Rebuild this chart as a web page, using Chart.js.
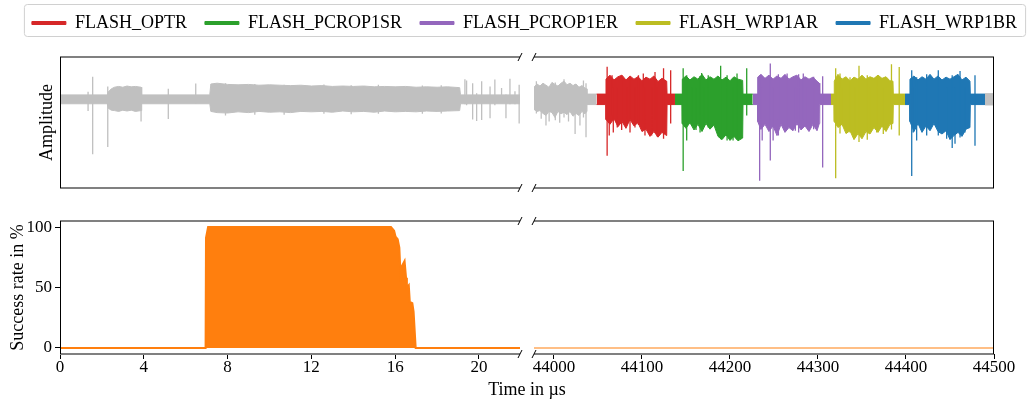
<!DOCTYPE html>
<html>
<head>
<meta charset="utf-8">
<script src="https://cdn.jsdelivr.net/npm/chart.js@4.4.1/dist/chart.umd.min.js"></script>
<style>
html, body { margin: 0; padding: 0; background: #fff; }
#wrap { position: relative; width: 1029px; height: 401px; overflow: hidden; }
#wrap canvas { position: absolute; left: 0; top: 0; }
#wrap canvas#lg { left: 10px; }
</style>
</head>
<body>
<div id="wrap">
  <canvas id="tl" width="1029" height="401"></canvas>
  <canvas id="tr" width="1029" height="401"></canvas>
  <canvas id="bl" width="1029" height="401"></canvas>
  <canvas id="br" width="1029" height="401"></canvas>
  <canvas id="lg" width="1029" height="110"></canvas>
</div>
<script>
// ---- data ----
const segNames = ['FLASH_OPTR', 'FLASH_PCROP1SR', 'FLASH_PCROP1ER', 'FLASH_WRP1AR', 'FLASH_WRP1BR'];
const segColors = ['#d62728', '#2ca02c', '#9467bd', '#bcbd22', '#1f77b4'];
const traceGray = '#c0c0c0';
const rateColor = '#ff7f0e';

const leftTicks = [0, 4, 8, 12, 16, 20];
const rightTicks = [44000, 44100, 44200, 44300, 44400, 44500];
const rateTicks = [0, 50, 100];

// left window 0..22 us: trace envelope (upper / lower)
const leftT  = [0, 2.26, 2.30, 2.45, 2.6, 2.8, 3.0, 3.2, 3.4, 3.6, 3.87, 3.90, 7.15, 7.20, 7.5, 8.0, 8.5, 9.0, 9.5, 10.0, 10.5, 11.0, 11.5, 12.0, 12.5, 13.0, 13.5, 14.0, 14.5, 15.0, 15.5, 16.0, 16.5, 17.0, 17.5, 18.0, 18.5, 19.08, 19.12, 21.96];
const leftHi = [0.11, 0.11, 0.18, 0.26, 0.30, 0.32, 0.30, 0.33, 0.31, 0.32, 0.30, 0.11, 0.11, 0.38, 0.40, 0.37, 0.36, 0.37, 0.35, 0.36, 0.35, 0.34, 0.35, 0.33, 0.34, 0.32, 0.33, 0.32, 0.33, 0.31, 0.32, 0.31, 0.32, 0.30, 0.31, 0.30, 0.31, 0.29, 0.11, 0.11];
const leftLo = [-0.11, -0.11, -0.22, -0.27, -0.28, -0.30, -0.27, -0.29, -0.27, -0.30, -0.28, -0.11, -0.11, -0.30, -0.33, -0.34, -0.31, -0.33, -0.30, -0.32, -0.31, -0.33, -0.30, -0.31, -0.30, -0.32, -0.29, -0.31, -0.30, -0.32, -0.29, -0.31, -0.30, -0.31, -0.29, -0.30, -0.29, -0.28, -0.11, -0.11];
// [time, low, high]
const leftSpikes = [[1.34, -0.29, 0.19], [1.56, -1.36, 0.56], [2.28, -1.18, 0.32], [3.87, -0.55, 0.30], [5.17, -0.49, 0.26], [6.48, -0.10, 0.39],
  [7.9, -0.40, 0.40], [9.3, -0.38, 0.38], [10.7, -0.38, 0.36], [12.6, -0.36, 0.37], [13.9, -0.37, 0.35], [15.2, -0.36, 0.36], [17.3, -0.36, 0.34], [18.2, -0.35, 0.35],
  [19.33, -0.12, 0.50], [19.41, -0.15, 0.47], [19.70, -0.50, 0.40], [19.89, -0.54, 0.15], [20.13, -0.51, 0.45], [20.53, -0.47, 0.32], [20.76, -0.15, 0.49],
  [21.08, -0.10, 0.28], [21.29, -0.47, 0.12], [21.48, -0.12, 0.51], [21.72, -0.12, 0.20], [21.92, -0.60, 0.36]];

// right window: gray head / tail
const grayHeadT  = [43977.3, 43980.7, 43984.1, 43987.5, 43990.9, 43994.3, 43997.7, 44001.1, 44004.5, 44008.0, 44011.4, 44014.8, 44018.2, 44021.6, 44025.0, 44028.4, 44031.8, 44035.2, 44037.2, 44037.5, 44048.5];
const grayHeadHi = [0.30, 0.38, 0.33, 0.40, 0.35, 0.30, 0.42, 0.37, 0.33, 0.40, 0.45, 0.36, 0.40, 0.34, 0.38, 0.30, 0.34, 0.28, 0.26, 0.13, 0.13];
const grayHeadLo = [-0.25, -0.30, -0.28, -0.35, -0.40, -0.30, -0.33, -0.45, -0.30, -0.36, -0.32, -0.38, -0.30, -0.42, -0.35, -0.40, -0.30, -0.36, -0.30, -0.13, -0.13];
const grayHeadSpikes = [[43980.0, -0.35, 0.45], [43985.5, -0.48, 0.30], [43990.9, -0.65, 0.35], [43994.5, -0.55, 0.30], [44001.5, -0.52, 0.42], [44006.5, -0.58, 0.30], [44011.4, -0.45, 0.50], [44016.5, -0.55, 0.30], [44024.0, -0.86, 0.38], [44029.5, -0.65, 0.30], [44033.5, -0.45, 0.47], [44036.4, -0.94, 0.40]];
const grayTailT  = [44489.8, 44500];
const grayTailHi = [0.14, 0.14];
const grayTailLo = [-0.14, -0.14];

const optrT  = [44048.5, 44059.0, 44059.1, 44063.6, 44068.2, 44072.7, 44077.3, 44081.8, 44086.4, 44090.9, 44095.5, 44100.0, 44104.5, 44109.1, 44113.6, 44118.2, 44122.7, 44128.1, 44128.5, 44137.5];
const optrHi = [0.13, 0.13, 0.50, 0.60, 0.48, 0.56, 0.60, 0.48, 0.58, 0.50, 0.56, 0.46, 0.55, 0.50, 0.58, 0.44, 0.52, 0.45, 0.13, 0.13];
const optrLo = [-0.13, -0.13, -0.50, -0.62, -0.48, -0.68, -0.55, -0.72, -0.50, -0.66, -0.58, -0.80, -0.74, -0.92, -0.80, -0.94, -0.82, -0.90, -0.13, -0.13];
const optrSpikes = [[44060.4, -1.40, 0.81], [44062.8, -0.90, 0.30], [44066.0, -0.40, 0.60], [44067.4, -0.82, 0.30], [44071.9, -0.70, 0.30], [44076.9, -0.76, 0.56],
  [44082.6, -0.60, 0.30], [44086.4, -0.82, 0.55], [44092.0, -0.70, 0.30], [44096.0, -0.64, 0.60], [44101.5, -0.60, 0.64], [44103.4, -0.90, 0.30],
  [44111.0, -0.90, 0.30], [44114.8, -0.50, 0.68], [44117.4, -0.93, 0.30], [44124.5, -0.98, 0.77], [44132.6, -0.60, 0.72]];

const srT  = [44137.5, 44145.5, 44145.8, 44150.0, 44154.5, 44159.1, 44163.6, 44168.2, 44172.7, 44177.3, 44181.8, 44186.4, 44190.9, 44195.5, 44200.0, 44204.5, 44209.1, 44214.4, 44214.8, 44225.8];
const srHi = [0.13, 0.13, 0.50, 0.58, 0.48, 0.56, 0.50, 0.62, 0.48, 0.56, 0.50, 0.58, 0.48, 0.55, 0.46, 0.56, 0.50, 0.47, 0.13, 0.13];
const srLo = [-0.13, -0.13, -0.60, -0.72, -0.58, -0.76, -0.62, -0.80, -0.60, -0.74, -0.64, -0.92, -1.00, -0.88, -1.02, -0.92, -1.03, -0.96, -0.13, -0.13];
const srSpikes = [[44146.8, -1.78, 0.77], [44150.8, -1.02, 0.60], [44156.5, -0.60, 0.30], [44161.4, -0.76, 0.30], [44166.0, -0.82, 0.58], [44167.8, -0.40, 0.65],
  [44170.5, -0.66, 0.30], [44175.3, -0.70, 0.60], [44189.4, -0.99, 0.83], [44196.7, -1.02, 0.60], [44203.5, -1.02, 0.30], [44208.0, -0.99, 0.64], [44219.0, -0.40, 0.77]];

const erT  = [44225.8, 44231.3, 44231.5, 44235.2, 44239.8, 44244.3, 44248.9, 44253.4, 44258.0, 44262.5, 44267.0, 44271.6, 44276.1, 44280.7, 44285.2, 44289.8, 44294.3, 44298.9, 44301.5, 44302.0, 44314.8];
const erHi = [0.13, 0.13, 0.55, 0.62, 0.52, 0.60, 0.50, 0.58, 0.52, 0.62, 0.50, 0.56, 0.60, 0.48, 0.56, 0.50, 0.55, 0.45, 0.40, 0.13, 0.13];
const erLo = [-0.13, -0.13, -0.55, -0.75, -0.62, -0.80, -0.66, -0.90, -0.62, -0.82, -0.70, -0.78, -0.60, -0.76, -0.66, -0.80, -0.62, -0.78, -0.60, -0.13, -0.13];
const erSpikes = [[44233.7, -2.02, 0.60], [44236.6, -1.02, 0.30], [44245.8, -1.52, 0.89], [44249.0, -1.02, 0.30], [44255.0, -0.90, 0.62], [44264.9, -0.72, 0.64],
  [44274.3, -0.78, 0.30], [44278.0, -0.82, 0.62], [44283.3, -0.50, 0.64], [44287.6, -0.66, 0.30], [44295.1, -0.74, 0.56], [44305.3, -1.69, 0.57]];

const arT  = [44314.8, 44318.2, 44318.5, 44322.7, 44327.3, 44331.8, 44336.4, 44340.9, 44345.5, 44350.0, 44354.5, 44359.1, 44363.6, 44368.2, 44372.7, 44377.3, 44381.8, 44385.2, 44385.6, 44398.9];
const arHi = [0.13, 0.13, 0.45, 0.62, 0.50, 0.56, 0.46, 0.55, 0.50, 0.60, 0.50, 0.56, 0.52, 0.60, 0.52, 0.56, 0.46, 0.45, 0.13, 0.13];
const arLo = [-0.13, -0.13, -0.55, -0.70, -0.62, -0.85, -0.78, -1.00, -0.85, -0.98, -0.80, -0.86, -0.70, -0.82, -0.66, -0.80, -0.62, -0.60, -0.13, -0.13];
const arSpikes = [[44320.1, -1.96, 0.77], [44325.0, -0.85, 0.64], [44326.9, -0.64, 0.30], [44336.4, -0.82, 0.55], [44342.0, -0.90, 0.30], [44346.6, -1.06, 0.83],
  [44356.0, -1.00, 0.60], [44359.0, -0.70, 0.30], [44366.7, -0.82, 0.56], [44374.2, -0.86, 0.30], [44383.5, -0.75, 0.87], [44392.3, -0.90, 0.80]];

const brT  = [44398.9, 44404.3, 44404.5, 44409.1, 44413.6, 44418.2, 44422.7, 44427.3, 44431.8, 44436.4, 44440.9, 44445.5, 44450.0, 44454.5, 44459.1, 44463.6, 44468.2, 44472.7, 44473.1, 44489.8];
const brHi = [0.13, 0.13, 0.50, 0.58, 0.48, 0.56, 0.50, 0.62, 0.50, 0.58, 0.48, 0.55, 0.50, 0.56, 0.62, 0.48, 0.55, 0.45, 0.13, 0.13];
const brLo = [-0.13, -0.13, -0.55, -0.80, -0.60, -0.82, -0.66, -0.78, -0.60, -0.80, -0.86, -0.78, -1.00, -0.90, -0.82, -0.92, -0.74, -0.70, -0.13, -0.13];
const brSpikes = [[44406.5, -1.90, 0.72], [44408.3, -0.82, 0.30], [44412.1, -1.02, 0.55], [44423.5, -0.90, 0.62], [44436.7, -0.90, 0.72], [44446.2, -0.98, 0.30],
  [44452.5, -1.21, 0.60], [44455.7, -1.10, 0.30], [44461.4, -0.95, 0.70], [44467.0, -0.82, 0.30], [44478.4, -1.15, 0.60]];

// success rate (%)
const rateLeftT = [0, 6.95, 6.97, 7.07, 15.80, 15.95, 16.02, 16.12, 16.20, 16.27, 16.33, 16.45, 16.52, 16.56, 16.65, 16.70, 16.82, 16.88, 16.98, 21.96];
const rateLeftV = [0, 0, 91, 100, 100, 97, 92, 90, 83, 55, 68, 72, 58, 50, 52, 38, 37, 30, 0, 0];
const rateRightT = [43977.3, 44500];
const rateRightV = [0, 0];

// ---- helpers ----
Chart.defaults.font.family = "'Liberation Serif', 'DejaVu Serif', serif";
Chart.defaults.font.size = 17;
Chart.defaults.color = '#000';

function pts(t, v) { return t.map((x, i) => ({ x: x, y: v[i] })); }

function band(t, hi, lo, color) {
  return [
    { data: pts(t, hi), borderColor: color, backgroundColor: color, borderWidth: 1, fill: '+1' },
    { data: pts(t, lo), borderColor: color, borderWidth: 1, fill: false }
  ];
}

function spikes(list, color) {
  const d = [];
  list.forEach(s => { d.push({ x: s[0], y: s[1] }, { x: s[0], y: s[2] }, { x: s[0], y: null }); });
  return { data: d, borderColor: color, borderWidth: 1.3, fill: false };
}

// spines + break marks
const framePlugin = {
  id: 'frame',
  afterDraw(chart, args, opts) {
    const { ctx, chartArea: a } = chart;
    ctx.save();
    ctx.strokeStyle = '#808080';
    ctx.lineWidth = 2;
    ctx.beginPath();
    ctx.moveTo(a.left, a.top); ctx.lineTo(a.right, a.top);
    ctx.moveTo(a.left, a.bottom); ctx.lineTo(a.right, a.bottom);
    ctx.stroke();
    ctx.strokeStyle = '#000';
    ctx.lineWidth = 1;
    ctx.beginPath();
    const sx = opts.side === 'left' ? a.left + 0.5 : a.right - 0.5;
    ctx.moveTo(sx, a.top); ctx.lineTo(sx, a.bottom);
    const bx = opts.side === 'left' ? a.right : a.left;
    [a.top, a.bottom].forEach(y => { ctx.moveTo(bx - 2, y + 4); ctx.lineTo(bx + 2, y - 4); });
    ctx.stroke();
    ctx.restore();
  }
};

function fixed(list) {
  return s => { s.ticks = list.map(v => ({ value: v })); };
}

function panel(id, datasets, cfg) {
  const showX = !!cfg.xTicks;
  const showY = !!cfg.yTitle;
  return new Chart(document.getElementById(id), {
    type: 'line',
    data: { datasets: datasets },
    options: {
      responsive: false,
      animation: false,
      events: [],
      layout: { padding: cfg.pad },
      elements: { point: { radius: 0 }, line: { tension: 0 } },
      plugins: { legend: { display: false }, tooltip: { enabled: false }, frame: { side: cfg.side } },
      scales: {
        x: {
          type: 'linear', min: cfg.xMin, max: cfg.xMax,
          display: showX,
          afterBuildTicks: showX ? fixed(cfg.xTicks) : undefined,
          afterFit: showX ? (s => { s.height = 20; }) : undefined,
          ticks: { autoSkip: false, maxRotation: 0, padding: -2, callback: v => String(v) },
          grid: { display: true, drawOnChartArea: false, drawTicks: true, tickLength: 5, color: '#000' },
          border: { display: false }
        },
        y: {
          type: 'linear', min: cfg.yMin, max: cfg.yMax,
          display: showY,
          afterBuildTicks: cfg.yTicks ? fixed(cfg.yTicks) : undefined,
          afterFit: showY ? (s => { s.width = cfg.yW; }) : undefined,
          ticks: { display: !!cfg.yTicks, padding: 3, callback: v => String(v) },
          grid: { display: !!cfg.yTicks, drawOnChartArea: false, drawTicks: true, tickLength: 5, color: '#000' },
          border: { display: false },
          title: { display: showY, text: cfg.yTitle, font: { size: 18 }, padding: { top: cfg.titlePad || 4, bottom: 0 } }
        }
      }
    },
    plugins: [framePlugin].concat(cfg.extra || [])
  });
}

// ---- top-left: trace, 0..22 us ----
panel('tl', band(leftT, leftHi, leftLo, traceGray).concat([spikes(leftSpikes, traceGray)]), {
  pad: { left: 32, right: 509, top: 57, bottom: 213 }, side: 'left',
  xMin: 0, xMax: 21.96, yMin: -2.2, yMax: 1.05, yTitle: 'Amplitude', yW: 28
});

// ---- top-right: trace, coloured by register ----
const segData = [
  [optrT, optrHi, optrLo, optrSpikes],
  [srT, srHi, srLo, srSpikes],
  [erT, erHi, erLo, erSpikes],
  [arT, arHi, arLo, arSpikes],
  [brT, brHi, brLo, brSpikes]
];
let trSets = [];
segData.forEach((s, i) => {
  trSets = trSets.concat([spikes(s[3], segColors[i])], band(s[0], s[1], s[2], segColors[i]));
});
trSets = trSets.concat([spikes(grayHeadSpikes, traceGray)], band(grayHeadT, grayHeadHi, grayHeadLo, traceGray), band(grayTailT, grayTailHi, grayTailLo, traceGray));
panel('tr', trSets, {
  pad: { left: 534, right: 35, top: 57, bottom: 213 }, side: 'right',
  xMin: 43977.3, xMax: 44500, yMin: -2.2, yMax: 1.05
});

// ---- bottom-left: success rate ----
const xTitlePlugin = {
  id: 'xTitle',
  afterDraw(chart) {
    const ctx = chart.ctx;
    ctx.save();
    ctx.font = "18px 'Liberation Serif', 'DejaVu Serif', serif";
    ctx.fillStyle = '#000';
    ctx.textAlign = 'center';
    ctx.textBaseline = 'middle';
    ctx.fillText('Time in µs', 527, 390);
    ctx.restore();
  }
};
panel('bl', [{ data: pts(rateLeftT, rateLeftV), borderColor: rateColor, backgroundColor: rateColor, borderWidth: 2, fill: 'origin' }], {
  pad: { left: 0, right: 509, top: 221, bottom: 27 }, side: 'left',
  xMin: 0, xMax: 21.96, xTicks: leftTicks, yMin: -5, yMax: 105, yTicks: rateTicks,
  yTitle: 'Success rate in %', yW: 60, titlePad: 7, extra: [xTitlePlugin]
});

// ---- bottom-right ----
panel('br', [{ data: pts(rateRightT, rateRightV), borderColor: 'rgba(255,127,14,0.5)', borderWidth: 2, fill: false }], {
  pad: { left: 534, right: 35, top: 221, bottom: 27 }, side: 'right',
  xMin: 43977.3, xMax: 44500, xTicks: rightTicks, yMin: -5, yMax: 105
});

// ---- legend ----
const legendBox = {
  id: 'legendBox',
  afterDraw(chart) {
    const boxes = chart.legend.legendHitBoxes;
    if (!boxes.length) return;
    const l = Math.min(...boxes.map(b => b.left)) - 8;
    const r = Math.max(...boxes.map(b => b.left + b.width)) + 8;
    const ctx = chart.ctx;
    ctx.save();
    ctx.strokeStyle = '#d0d0d0';
    ctx.lineWidth = 1;
    ctx.beginPath();
    ctx.roundRect(l + 0.5, 4.5, r - l, 32, 3);
    ctx.stroke();
    ctx.restore();
  }
};
new Chart(document.getElementById('lg'), {
  type: 'line',
  data: { datasets: segNames.map((n, i) => ({ label: n, data: [], borderColor: segColors[i], backgroundColor: segColors[i], borderWidth: 1 })) },
  options: {
    responsive: false,
    animation: false,
    events: [],
    layout: { padding: { top: -4 } },
    scales: { x: { display: false }, y: { display: false } },
    plugins: {
      tooltip: { enabled: false },
      legend: { display: true, labels: { boxWidth: 34, boxHeight: 3, padding: 18, font: { size: 18 }, color: '#000' } }
    }
  },
  plugins: [legendBox]
});
</script>
</body>
</html>
